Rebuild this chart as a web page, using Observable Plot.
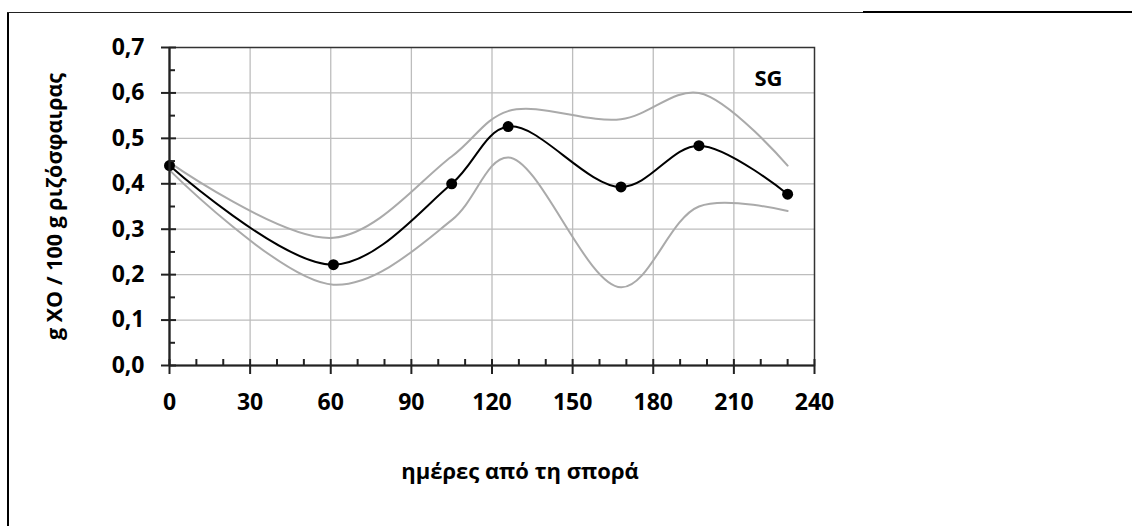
<!DOCTYPE html>
<html>
<head>
<meta charset="utf-8">
<script src="https://cdn.jsdelivr.net/npm/d3@7"></script>
<script src="https://cdn.jsdelivr.net/npm/@observablehq/plot@0.6"></script>
<style>
  html, body { margin: 0; padding: 0; background: #fff; }
  #wrap { position: relative; width: 1132px; height: 526px; overflow: hidden; }
  #wrap svg { position: absolute; left: 0; top: 0; }
  .bl { position: absolute; left: 7px; top: 12px; width: 0; height: 520px; border-left: 2px solid #000; }
  .bt1 { position: absolute; left: 7px; top: 12px; width: 856px; height: 0; border-top: 1px solid #222; }
  .bt2 { position: absolute; left: 863px; top: 11px; width: 280px; height: 0; border-top: 2px solid #000; }
</style>
</head>
<body>
<div id="wrap"><div class="bl"></div><div class="bt1"></div><div class="bt2"></div></div>
<script>
// Data
const days  = [0, 61, 105, 126, 168, 197, 230];
const mean  = [0.44, 0.222, 0.40, 0.526, 0.393, 0.484, 0.377];
const upper = [0.447, 0.281, 0.46, 0.56, 0.542, 0.60, 0.44];
const lower = [0.43, 0.178, 0.32, 0.458, 0.172, 0.35, 0.34];
const xMajorTicks = [0, 30, 60, 90, 120, 150, 180, 210, 240];
const xMinorTicks = [10, 20, 40, 50, 70, 80, 100, 110, 130, 140, 160, 170, 190, 200, 220, 230];
const yMajorTicks = [0, 0.1, 0.2, 0.3, 0.4, 0.5, 0.6, 0.7];
const yMinorTicks = [0.05, 0.15, 0.25, 0.35, 0.45, 0.55, 0.65];
const xLabel = "ημέρες από τη σπορά";
const yLabel = "g XO / 100 g ριζόσφαιρας";
const seriesName = "SG";

const rows = (vals) => days.map((d, i) => ({day: d, v: vals[i]}));
const meanData = rows(mean), upperData = rows(upper), lowerData = rows(lower);

const W = 1132, H = 526;
const mL = 169, mR = 318, mT = 47, mB = 161;
const pw = W - mL - mR, ph = H - mT - mB;
const FONT = "'Open Sans', 'Noto Sans', sans-serif";
const fmt = d => d.toFixed(1).replace(".", ",");

const chart = Plot.plot({
  width: W, height: H,
  marginLeft: mL, marginRight: mR, marginTop: mT, marginBottom: mB,
  style: {fontFamily: FONT, background: "transparent", overflow: "visible"},
  x: {domain: [0, 240]},
  y: {domain: [0, 0.7]},
  marks: [
    Plot.gridX(xMajorTicks.filter(d => d > 0 && d < 240), {stroke: "#bdbdbd", strokeOpacity: 1, strokeWidth: 1.3}),
    Plot.gridY(yMajorTicks.filter(d => d > 0 && d < 0.7), {stroke: "#bdbdbd", strokeOpacity: 1, strokeWidth: 1.3}),
    Plot.frame({stroke: "#333", strokeWidth: 1.5}),
    // grey bounds
    Plot.line(upperData, {x: "day", y: "v", curve: "catmull-rom", stroke: "#aaaaaa", strokeWidth: 2}),
    Plot.line(lowerData, {x: "day", y: "v", curve: "catmull-rom", stroke: "#aaaaaa", strokeWidth: 2}),
    // mean
    Plot.line(meanData, {x: "day", y: "v", curve: "catmull-rom", stroke: "#000", strokeWidth: 2}),
    Plot.dot(meanData, {x: "day", y: "v", r: 5.5, fill: "#000"}),
    // axis lines
    Plot.ruleX([0], {stroke: "#222", strokeWidth: 2.2}),
    Plot.ruleY([0], {stroke: "#222", strokeWidth: 2.2}),
    // ticks
    Plot.ruleY(yMajorTicks, {y: d => d, stroke: "#222", strokeWidth: 2, insetLeft: -8, insetRight: pw - 7}),
    Plot.ruleY(yMinorTicks, {y: d => d, stroke: "#222", strokeWidth: 2, insetLeft: 0, insetRight: pw - 6}),
    Plot.ruleX(xMajorTicks, {x: d => d, stroke: "#222", strokeWidth: 2, insetTop: ph - 6, insetBottom: -9}),
    Plot.ruleX(xMinorTicks, {x: d => d, stroke: "#222", strokeWidth: 2, insetTop: ph - 6, insetBottom: 0}),
    // tick labels
    Plot.axisX(xMajorTicks, {tickSize: 0, tickPadding: 28, fontSize: 23, fontWeight: "bold", fill: "#000", label: null}),
    Plot.axisY(yMajorTicks, {tickSize: 0, tickPadding: 25, fontSize: 23, fontWeight: "bold", fill: "#000", tickFormat: fmt, label: null}),
    // axis titles
    Plot.text([xLabel], {frameAnchor: "bottom", dy: 106, dx: 28, fontSize: 22, fontWeight: "bold", fill: "#000", lineAnchor: "middle", textAnchor: "middle"}),
    Plot.text([yLabel], {frameAnchor: "left", rotate: -90, dx: -114, fontSize: 21.5, fontWeight: "bold", fill: "#000", lineAnchor: "middle", textAnchor: "middle"}),
    Plot.text([seriesName], {frameAnchor: "top-right", dx: -46, dy: 31, fontSize: 22, fontWeight: "bold", fill: "#000", lineAnchor: "middle", textAnchor: "middle"})
  ]
});
document.getElementById("wrap").appendChild(chart);
</script>
</body>
</html>
